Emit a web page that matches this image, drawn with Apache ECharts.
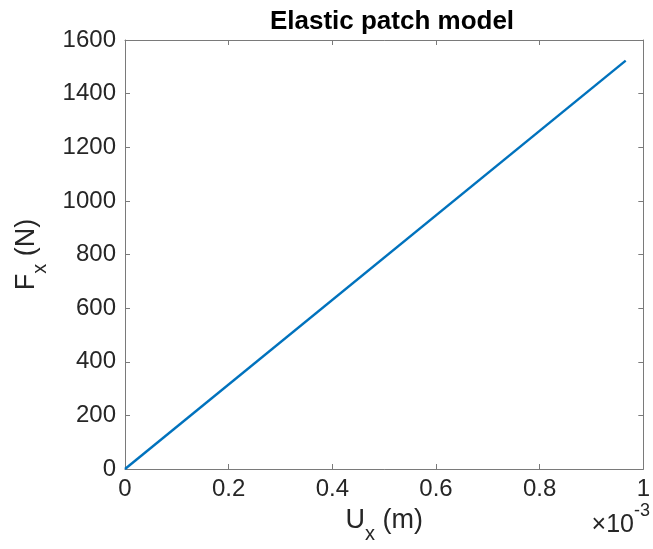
<!DOCTYPE html>
<html><head><meta charset="utf-8">
<script src="https://cdn.jsdelivr.net/npm/echarts@6/dist/echarts.min.js"></script>
<style>html,body{margin:0;padding:0;background:#fff}#c{width:653px;height:549px}</style>
</head><body><div id="c"></div>
<script>
const titleText = 'Elastic patch model';
const dispX = [0, 0.000966];
const forceX = [0, 1523];
const xMin = 0, xMax = 0.001, xStep = 0.0002;
const yMin = 0, yMax = 1600, yStep = 200;

const pts = dispX.map((v, i) => [v, forceX[i]]);
const F = 'Helvetica, Arial, "Liberation Sans", sans-serif';
const axisCol = '#7a7a7a';
const txt = '#262626';
const chart = echarts.init(document.getElementById('c'), null, {renderer: 'canvas'});
const common = {
  axisLine: {show: true, onZero: false, lineStyle: {color: axisCol, width: 1}},
  axisTick: {show: true, inside: true, length: 5, lineStyle: {color: axisCol}},
  splitLine: {show: false}
};
const subRich = {
  m: {fontFamily: F, fontSize: 27, color: txt, verticalAlign: 'top', lineHeight: 37},
  s: {fontFamily: F, fontSize: 20, color: txt, verticalAlign: 'bottom', lineHeight: 37}
};
chart.setOption({
  animation: false,
  title: {text: titleText, left: 387, textAlign: 'center', top: 4,
    textStyle: {fontFamily: F, fontWeight: 'bold', fontSize: 26, color: '#000'}},
  grid: {left: 125, right: 2, top: 40, bottom: 77},
  xAxis: [
    Object.assign({type: 'value', min: xMin, max: xMax, interval: xStep, position: 'bottom',
      axisLabel: {fontFamily: F, fontSize: 24, color: txt, margin: 8,
        formatter: v => String(Math.round(v * 1e4) / 10)},
      name: '{m|U}{s|x}{m| (m)}', nameLocation: 'middle', nameGap: 38,
      nameTextStyle: {rich: subRich}}, common),
    Object.assign({type: 'value', min: xMin, max: xMax, interval: xStep, position: 'top',
      axisLabel: {show: false}}, common)
  ],
  yAxis: [
    Object.assign({type: 'value', min: yMin, max: yMax, interval: yStep, position: 'left',
      axisLabel: {fontFamily: F, fontSize: 24, color: txt, margin: 9, formatter: v => String(v)},
      name: '{m|F}{s|x}{m| (N)}', nameLocation: 'middle', nameGap: 75, nameRotate: 90,
      nameTextStyle: {rich: subRich}}, common),
    Object.assign({type: 'value', min: yMin, max: yMax, interval: yStep, position: 'right',
      axisLabel: {show: false}}, common)
  ],
  graphic: [{
    type: 'text', right: 3, top: 502,
    style: {text: '{m|\u00d710}{p|-3}', rich: {
      m: {fontFamily: F, fontSize: 25, fill: txt, verticalAlign: 'bottom', lineHeight: 36},
      p: {fontFamily: F, fontSize: 18, fill: txt, verticalAlign: 'top', lineHeight: 36}
    }}
  }],
  series: [{type: 'line', data: pts, showSymbol: false, xAxisIndex: 0, yAxisIndex: 0,
    lineStyle: {color: '#0072BD', width: 2.4}, itemStyle: {color: '#0072BD'}}]
});
</script></body></html>
